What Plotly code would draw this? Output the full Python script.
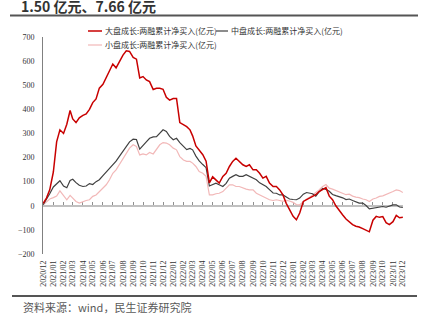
import plotly.graph_objects as go
import pandas as pd

# x grid: 1st, 11th, 21st of each month from 2020-12 to 2023-12
months = pd.date_range("2020-12-01", "2023-12-01", freq="MS")
dates = []
for m in months:
    for d in (1, 11, 21):
        dates.append(m + pd.Timedelta(days=d - 1))
dates = [d.strftime("%Y-%m-%d") for d in dates][:109]

large_growth = [10, 32, 66, 140, 265, 315, 300, 338, 395, 360,
                345, 365, 375, 381, 400, 428, 443, 488, 504, 530,
                558, 588, 572, 597, 625, 643, 640, 615, 608, 530,
                536, 522, 515, 482, 487, 487, 483, 450, 438, 445,
                445, 345, 335, 328, 315, 290, 248, 232, 212, 185,
                95, 120, 108, 94, 122, 135, 163, 184, 197, 184,
                170, 163, 170, 149, 149, 135, 115, 122, 94, 80,
                80, 66, 45, 10, -15, -44, -58, -30, 18, 25,
                32, 39, 46, 59, 66, 75, 40, 25, 0, -20,
                -38, -55, -68, -78, -85, -88, -95, -103, -108, -60,
                -44, -48, -45, -70, -78, -66, -40, -50, -48]

mid_growth = [4, 25, 50, 78, 93, 104, 82, 75, 105, 110,
              96, 85, 80, 82, 92, 88, 100, 108, 125, 140,
              155, 168, 185, 205, 225, 248, 265, 276, 275, 235,
              252, 265, 280, 286, 287, 302, 315, 308, 288, 274,
              280, 262, 247, 233, 238, 232, 206, 186, 171, 158,
              82, 87, 94, 87, 80, 93, 114, 122, 129, 122,
              122, 129, 122, 115, 108, 95, 87, 80, 67, 53,
              52, 45, 45, 38, 28, 26, 25, 32, 48, 55,
              52, 50, 40, 58, 72, 68, 60, 47, 42, 39,
              33, 26, 28, 22, 18, 11, 11, 1, -13, -10,
              -6, -6, -3, -6, 0, 4, 4, -5, -7]

small_growth = [4, 18, 28, 34, 40, 62, 40, 25, 43, 32,
                18, 11, 18, 22, 25, 39, 45, 59, 73, 87,
                108, 135, 149, 170, 197, 218, 239, 253, 246, 211,
                215, 211, 221, 215, 232, 253, 262, 260, 253, 239,
                232, 204, 190, 184, 184, 177, 163, 142, 135, 122,
                45, 45, 50, 52, 59, 73, 87, 87, 80, 80,
                73, 69, 66, 66, 52, 45, 39, 32, 25, 22,
                25, 22, 18, 22, 20, 14, 5, 4, 18, 28,
                36, 46, 55, 66, 80, 88, 73, 69, 64, 59,
                52, 46, 48, 40, 36, 34, 28, 25, 18, 28,
                32, 39, 41, 46, 52, 59, 66, 63, 55]

names = ["大盘成长:两融累计净买入(亿元)", "中盘成长:两融累计净买入(亿元)", "小盘成长:两融累计净买入(亿元)"]
colors = ["#C80000", "#404040", "#F2B8B8"]
widths = [1.5, 1.2, 1.2]
y_ticks = [700, 600, 500, 400, 300, 200, 100, 0, -100, -200]
title_text = "1.50 亿元、7.66 亿元"
source_text = "资料来源：wind，民生证券研究院"

fig = go.Figure()
# draw pink first, then black, then red on top
for idx in (2, 1, 0):
    ser = [large_growth, mid_growth, small_growth][idx]
    fig.add_trace(go.Scatter(x=dates, y=ser, mode="lines", name=names[idx],
                             line=dict(color=colors[idx], width=widths[idx]),
                             showlegend=False))
# dummy trace for the zero-line axis
fig.add_trace(go.Scatter(x=[dates[0]], y=[0], xaxis="x2", mode="markers",
                         marker=dict(opacity=0), showlegend=False, hoverinfo="skip"))

xr = ["2020-11-30 12:00", "2023-12-01 12:00"]
fig.update_layout(
    width=426, height=327,
    margin=dict(l=43, r=23, t=37, b=73),
    plot_bgcolor="white", paper_bgcolor="white",
    xaxis=dict(type="date", range=xr, dtick="M1", tick0="2020-12-01",
               tickformat="%Y/%m", tickangle=-90, showline=False, showgrid=False,
               zeroline=False, ticks="", ticklabelstandoff=4,
               tickfont=dict(family="Liberation Serif", size=8, color="#333333")),
    xaxis2=dict(type="date", range=xr, dtick="M1", tick0="2020-12-01",
                overlaying="x", anchor="free", position=200 / 900, side="bottom",
                showticklabels=False, showgrid=False, zeroline=False,
                showline=True, linecolor="#C0C0C0", linewidth=2,
                ticks="inside", ticklen=3, tickcolor="#909090", layer="below traces"),
    yaxis=dict(range=[-200, 700], tickvals=y_ticks, showgrid=False, zeroline=False,
               showline=True, linecolor="#808080", linewidth=1, ticks="",
               ticklabelstandoff=6,
               tickfont=dict(family="Liberation Serif", size=8, color="#333333")),
)

# title and decorations
fig.add_annotation(text=f"<b>{title_text}</b>", xref="paper", yref="paper",
                   x=(20 - 43) / 360, y=(254 - 17) / 217, xanchor="left", yanchor="bottom",
                   showarrow=False, borderpad=0,
                   font=dict(family="Noto Sans CJK SC", size=14, color="#333333"))
fig.add_shape(type="line", xref="paper", yref="paper", x0=(10 - 43) / 360, x1=(418 - 43) / 360,
              y0=(254 - 15.5) / 217, y1=(254 - 15.5) / 217, line=dict(color="#555555", width=2))
fig.add_shape(type="line", xref="paper", yref="paper", x0=(12 - 43) / 360, x1=(417 - 43) / 360,
              y0=(254 - 296) / 217, y1=(254 - 296) / 217, line=dict(color="#555555", width=2))
fig.add_annotation(text=source_text, xref="paper", yref="paper",
                   x=(21 - 43) / 360, y=(254 - 307) / 217, xanchor="left", yanchor="middle",
                   showarrow=False, font=dict(family="Noto Sans CJK SC", size=11, color="#595959"))

# manual legend
legend_items = [(0, 88, 102, 31), (1, 216, 228, 31), (2, 88, 102, 45)]
for idx, x0, x1, py in legend_items:
    yp = (254 - py) / 217
    fig.add_shape(type="line", xref="paper", yref="paper", x0=(x0 - 43) / 360, x1=(x1 - 43) / 360,
                  y0=yp, y1=yp, line=dict(color=colors[idx], width=1.5 if idx == 0 else 1.2))
    fig.add_annotation(text=names[idx], xref="paper", yref="paper", x=(x1 + 1 - 43) / 360, y=yp,
                       xanchor="left", yanchor="middle", showarrow=False,
                       font=dict(family="Noto Sans CJK SC", size=8, color="#333333"))

fig.write_html("out.html")
